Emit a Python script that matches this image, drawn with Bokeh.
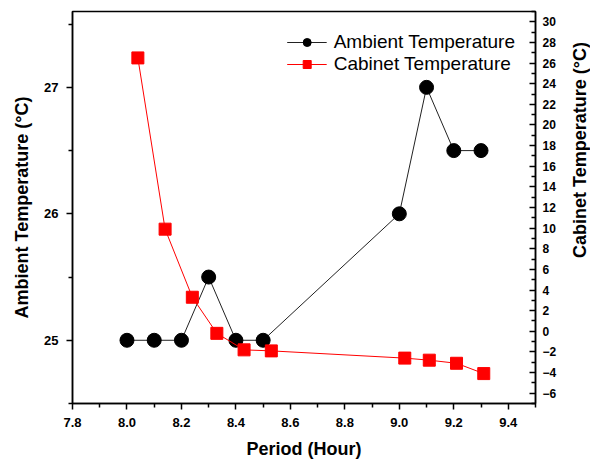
from bokeh.plotting import figure
from bokeh.layouts import row
from bokeh.models import (Range1d, LinearAxis, FixedTicker, PrintfTickFormatter,
                          Legend, LegendItem, Div)
from bokeh.embed import file_html
from bokeh.resources import INLINE

# ---- data ----
ambient_hours = [8.0, 8.1, 8.2, 8.3, 8.4, 8.5, 9.0, 9.1, 9.2, 9.3]
ambient_temp = [25.0, 25.0, 25.0, 25.5, 25.0, 25.0, 26.0, 27.0, 26.5, 26.5]
cabinet_hours = [8.04, 8.14, 8.24, 8.33, 8.43, 8.53, 9.02, 9.11, 9.21, 9.31]
cabinet_temp = [26.5, 9.9, 3.3, -0.2, -1.8, -1.9, -2.6, -2.8, -3.1, -4.1]

x_ticks = [7.8, 8.0, 8.2, 8.4, 8.6, 8.8, 9.0, 9.2, 9.4]
x_minor = [7.9, 8.1, 8.3, 8.5, 8.7, 8.9, 9.1, 9.3, 9.5]
left_ticks = [25, 26, 27]
left_minor = [24.5, 25.5, 26.5, 27.5]
right_ticks = list(range(-6, 31, 2))
right_minor = list(range(-7, 32, 2))

FONT = "Liberation Sans"

p = figure(width=562, height=466, output_backend="svg", toolbar_location=None,
           x_range=Range1d(7.8, 9.5), y_range=Range1d(24.5, 27.6),
           min_border_left=72, min_border_right=27, min_border_top=11,
           min_border_bottom=63)
p.extra_y_ranges = {"cab": Range1d(-7, 31)}
p.grid.visible = False
p.outline_line_color = "black"
p.outline_line_width = 1.5

# bottom axis
xa = p.xaxis[0]
xa.ticker = FixedTicker(ticks=x_ticks, minor_ticks=x_minor)
xa.formatter = PrintfTickFormatter(format="%.1f")
xa.axis_label = "Period (Hour)"

# left axis
ya = p.yaxis[0]
ya.ticker = FixedTicker(ticks=left_ticks, minor_ticks=left_minor)
ya.axis_label = "Ambient Temperature (°C)"

# right axis (its title is set beside the figure so it reads bottom-to-top)
ra = LinearAxis(y_range_name="cab",
                ticker=FixedTicker(ticks=right_ticks, minor_ticks=right_minor))
p.add_layout(ra, "right")

for ax in (xa, ya, ra):
    ax.axis_line_color = "black"
    ax.axis_line_width = 1.5
    ax.major_tick_line_color = "black"
    ax.minor_tick_line_color = "black"
    ax.major_tick_line_width = 1.5
    ax.minor_tick_line_width = 1.5
    ax.major_label_text_font = FONT
    ax.major_label_text_font_style = "bold"
    ax.major_label_text_font_size = "13px"
    ax.major_label_text_color = "black"
    ax.axis_label_text_font = FONT
    ax.axis_label_text_font_style = "bold"
    ax.axis_label_text_font_size = "18px"
    ax.axis_label_text_color = "black"

ra.major_label_text_font_size = "12px"

xa.major_tick_out = 6
xa.major_tick_in = 0
xa.minor_tick_out = 4
xa.minor_tick_in = 0
xa.major_label_standoff = 8
xa.axis_label_standoff = 9

ya.major_tick_out = 6
ya.major_tick_in = 0
ya.minor_tick_out = 4
ya.minor_tick_in = 0
ya.major_label_standoff = 8
ya.axis_label_standoff = 9

ra.major_tick_out = 0
ra.major_tick_in = 6
ra.minor_tick_out = 0
ra.minor_tick_in = 4
ra.major_label_standoff = 7

amb_line = p.line(ambient_hours, ambient_temp, line_color="#222222", line_width=1)
amb_pts = p.scatter(ambient_hours, ambient_temp, marker="circle", size=14,
                    fill_color="black", line_color="black")
cab_line = p.line(cabinet_hours, cabinet_temp, line_color="red", line_width=1,
                  y_range_name="cab")
cab_pts = p.scatter(cabinet_hours, cabinet_temp, marker="square", size=12,
                    fill_color="red", line_color="red", y_range_name="cab")

legend = Legend(items=[
    LegendItem(label="Ambient Temperature", renderers=[amb_line, amb_pts]),
    LegendItem(label="Cabinet Temperature", renderers=[cab_line, cab_pts]),
], location="top_right")
legend.label_text_font = FONT
legend.label_text_font_size = "19px"
legend.label_text_color = "black"
legend.glyph_width = 40
legend.glyph_height = 20
legend.label_standoff = 7
legend.spacing = 0
legend.padding = 8
legend.margin = 12
legend.border_line_alpha = 0
legend.background_fill_alpha = 0
p.add_layout(legend, "center")

right_title = Div(
    text=('<div style="width:28px;height:290px;display:flex;align-items:center;'
          'justify-content:center;">'
          '<span style="writing-mode:vertical-rl;transform:rotate(180deg);'
          'white-space:nowrap;font-family:\'Liberation Sans\';font-weight:bold;'
          'font-size:18px;color:black;">Cabinet Temperature (°C)</span></div>'),
    width=28, height=466)

layout = row(p, right_title, spacing=0)

open("out.html", "w").write(file_html(layout, INLINE))
